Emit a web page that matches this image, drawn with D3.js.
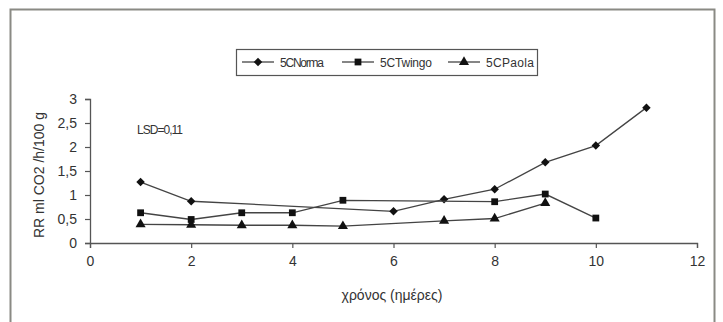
<!DOCTYPE html>
<html>
<head>
<meta charset="utf-8">
<script src="https://cdn.jsdelivr.net/npm/d3@7"></script>
<style>
  html, body { margin: 0; padding: 0; background: #ffffff; }
  svg { display: block; }
  text { font-family: "Liberation Sans", Arial, sans-serif; fill: #333; }
</style>
</head>
<body>
<svg id="chart" width="723" height="322"></svg>
<script>
// ---- data ----
const seriesNames = ["5CNorma", "5CTwingo", "5CPaola"];
const normaDays  = [1, 2, 6, 7, 8, 9, 10, 11];
const normaRR    = [1.27, 0.87, 0.66, 0.91, 1.12, 1.68, 2.03, 2.82];
const twingoDays = [1, 2, 3, 4, 5, 8, 9, 10];
const twingoRR   = [0.63, 0.49, 0.63, 0.63, 0.89, 0.86, 1.02, 0.52];
const paolaDays  = [1, 2, 3, 4, 5, 7, 8, 9];
const paolaRR    = [0.39, 0.38, 0.37, 0.37, 0.35, 0.46, 0.51, 0.83];
const xTicks = [0, 2, 4, 6, 8, 10, 12];
const yTicks = [0, 0.5, 1, 1.5, 2, 2.5, 3];
const xTitle = "χρόνος (ημέρες)";
const yTitle = "RR ml CO2 /h/100 g";
const note = "LSD=0,11";

const series = [
  { name: seriesNames[0], days: normaDays,  vals: normaRR,  marker: "diamond" },
  { name: seriesNames[1], days: twingoDays, vals: twingoRR, marker: "square" },
  { name: seriesNames[2], days: paolaDays,  vals: paolaRR,  marker: "triangle" }
];

const svg = d3.select("#chart");

// outer frame
svg.append("rect").attr("x", 10.5).attr("y", 9.5).attr("width", 704).attr("height", 330)
  .attr("fill", "none").attr("stroke", "#8a8a84").attr("stroke-width", 2);

const x = d3.scaleLinear().domain([0, 12]).range([90, 697]);
const y = d3.scaleLinear().domain([0, 3]).range([243, 99]);

const fmt = d => String(d).replace(".", ",");

// axes
const xAxis = svg.append("g").attr("transform", "translate(0,243)")
  .call(d3.axisBottom(x).tickValues(xTicks).tickFormat(fmt).tickSize(5).tickPadding(8));
const yAxis = svg.append("g").attr("transform", "translate(90,0)")
  .call(d3.axisLeft(y).tickValues(yTicks).tickFormat(fmt).tickSize(5).tickPadding(8));
[xAxis, yAxis].forEach(g => {
  g.select(".domain").attr("stroke", "#555").attr("stroke-width", 1.3);
  g.selectAll(".tick line").attr("stroke", "#555").attr("stroke-width", 1.2);
  g.selectAll(".tick text").attr("font-size", 14).attr("fill", "#444")
    .attr("font-family", "Liberation Sans, Arial, sans-serif");
});

// titles
svg.append("text").attr("x", 392).attr("y", 300).attr("text-anchor", "middle")
  .attr("font-size", 14).text(xTitle);
svg.append("text").attr("transform", "translate(44,175) rotate(-90)")
  .attr("text-anchor", "middle").attr("font-size", 14).text(yTitle);
svg.append("text").attr("x", 137).attr("y", 134).attr("font-size", 12)
  .attr("textLength", 46).text(note);

// markers
const sym = {
  diamond: d3.symbol().type(d3.symbolSquare).size(36),
  square: d3.symbol().type(d3.symbolSquare).size(46),
  triangle: d3.symbol().type(d3.symbolTriangle).size(44)
};
const rot = { diamond: " rotate(45)", square: "", triangle: "" };

const line = d3.line().x(d => x(d[0])).y(d => y(d[1]));

series.forEach(s => {
  const pts = s.days.map((d, i) => [d, s.vals[i]]);
  svg.append("path").datum(pts).attr("d", line)
    .attr("fill", "none").attr("stroke", "#444").attr("stroke-width", 1.3);
  svg.selectAll(null).data(pts).enter().append("path")
    .attr("d", sym[s.marker])
    .attr("transform", d => `translate(${x(d[0])},${y(d[1])})${rot[s.marker]}`)
    .attr("fill", "#111");
});

// legend
const lg = svg.append("g");
lg.append("rect").attr("x", 236.5).attr("y", 49.5).attr("width", 301).attr("height", 26)
  .attr("fill", "#fff").attr("stroke", "#555").attr("stroke-width", 1.2);
const legendX = [242, 342, 448];
const textW = [44, 52, 48];
series.forEach((s, i) => {
  const lx = legendX[i];
  lg.append("line").attr("x1", lx).attr("x2", lx + 32).attr("y1", 62).attr("y2", 62)
    .attr("stroke", "#444").attr("stroke-width", 1.3);
  lg.append("path").attr("d", sym[s.marker]).attr("transform", `translate(${lx + 16},62)${rot[s.marker]}`)
    .attr("fill", "#111");
  lg.append("text").attr("x", lx + 38).attr("y", 66.5).attr("font-size", 12)
    .attr("textLength", textW[i]).text(s.name);
});
</script>
</body>
</html>
